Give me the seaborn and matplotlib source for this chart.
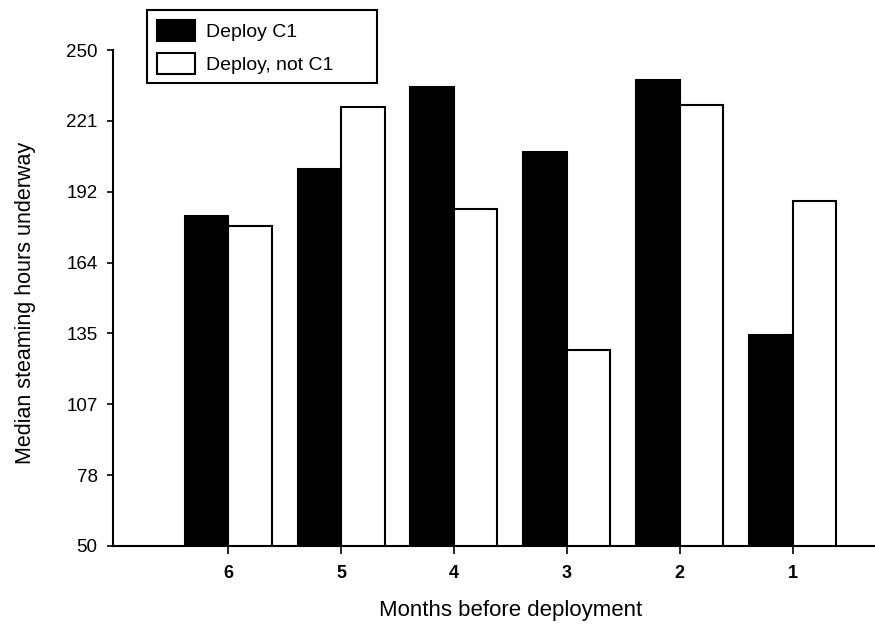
import pandas as pd
import numpy as np
import matplotlib
matplotlib.use("Agg")
import matplotlib.pyplot as plt
import seaborn as sns

# months before deployment, left to right
months = ["6", "5", "4", "3", "2", "1"]
deploy_c1 = [183, 202, 235, 209, 238, 135]
deploy_not_c1 = [179, 227, 186, 129, 228, 189]
series_names = ["Deploy C1", "Deploy, not C1"]
ytick_values = list(np.linspace(50, 250, 8))
ytick_labels = ["50", "78", "107", "135", "164", "192", "221", "250"]


def main():
    df = pd.DataFrame({
        "month": months * 2,
        "hours": deploy_c1 + deploy_not_c1,
        "group": [series_names[0]] * len(months) + [series_names[1]] * len(months),
    })

    sns.set_theme(style="ticks")
    plt.rcParams["font.family"] = ["Liberation Sans", "DejaVu Sans"]
    plt.rcParams.update({"text.color": "black", "axes.labelcolor": "black",
                         "xtick.color": "black", "ytick.color": "black"})

    fig = plt.figure(figsize=(8.75, 6.34), dpi=100)
    ax = fig.add_axes([0.129, 0.139, 0.91, 0.782])

    sns.barplot(data=df, x="month", y="hours", hue="group", order=months,
                hue_order=series_names, palette=["black", "white"],
                edgecolor="black", linewidth=1.5, width=0.77, ax=ax)

    ax.set_ylim(50, 250)
    ax.set_xlim(-1.02, 6.03)
    ax.set_yticks(ytick_values)
    ax.set_yticklabels(ytick_labels, fontsize=13.5)
    ax.set_xticks(range(len(months)))
    ax.set_xticklabels(months, fontsize=13, fontweight="bold")
    ax.tick_params(axis="y", length=4, width=1.2, pad=7)
    ax.tick_params(axis="x", length=6, width=1.2, pad=8)

    ax.set_xlabel("Months before deployment", fontsize=16)
    ax.set_ylabel("Median steaming hours underway", fontsize=15.5)
    ax.xaxis.set_label_coords(0.5, -0.11)
    ax.yaxis.set_label_coords(-0.097, 0.49)

    sns.despine(ax=ax)
    for s in ["left", "bottom"]:
        ax.spines[s].set_linewidth(1.5)
        ax.spines[s].set_color("black")

    # legend box stretched to the width it has in the original
    leg = ax.legend(loc="upper left", mode="expand",
                    bbox_to_anchor=(0.168, 0.852, 0.263, 0.132),
                    bbox_transform=fig.transFigure, fontsize=14,
                    frameon=True, fancybox=False, shadow=False,
                    handlelength=1.96, handleheight=1.29, labelspacing=0.6,
                    handletextpad=0.6, borderpad=0.5, borderaxespad=0)
    leg.get_frame().set_edgecolor("black")
    leg.get_frame().set_linewidth(1.5)
    leg.get_frame().set_alpha(1)

    plt.savefig("out.png", dpi=100)
    plt.close()


if __name__ == "__main__":
    main()
